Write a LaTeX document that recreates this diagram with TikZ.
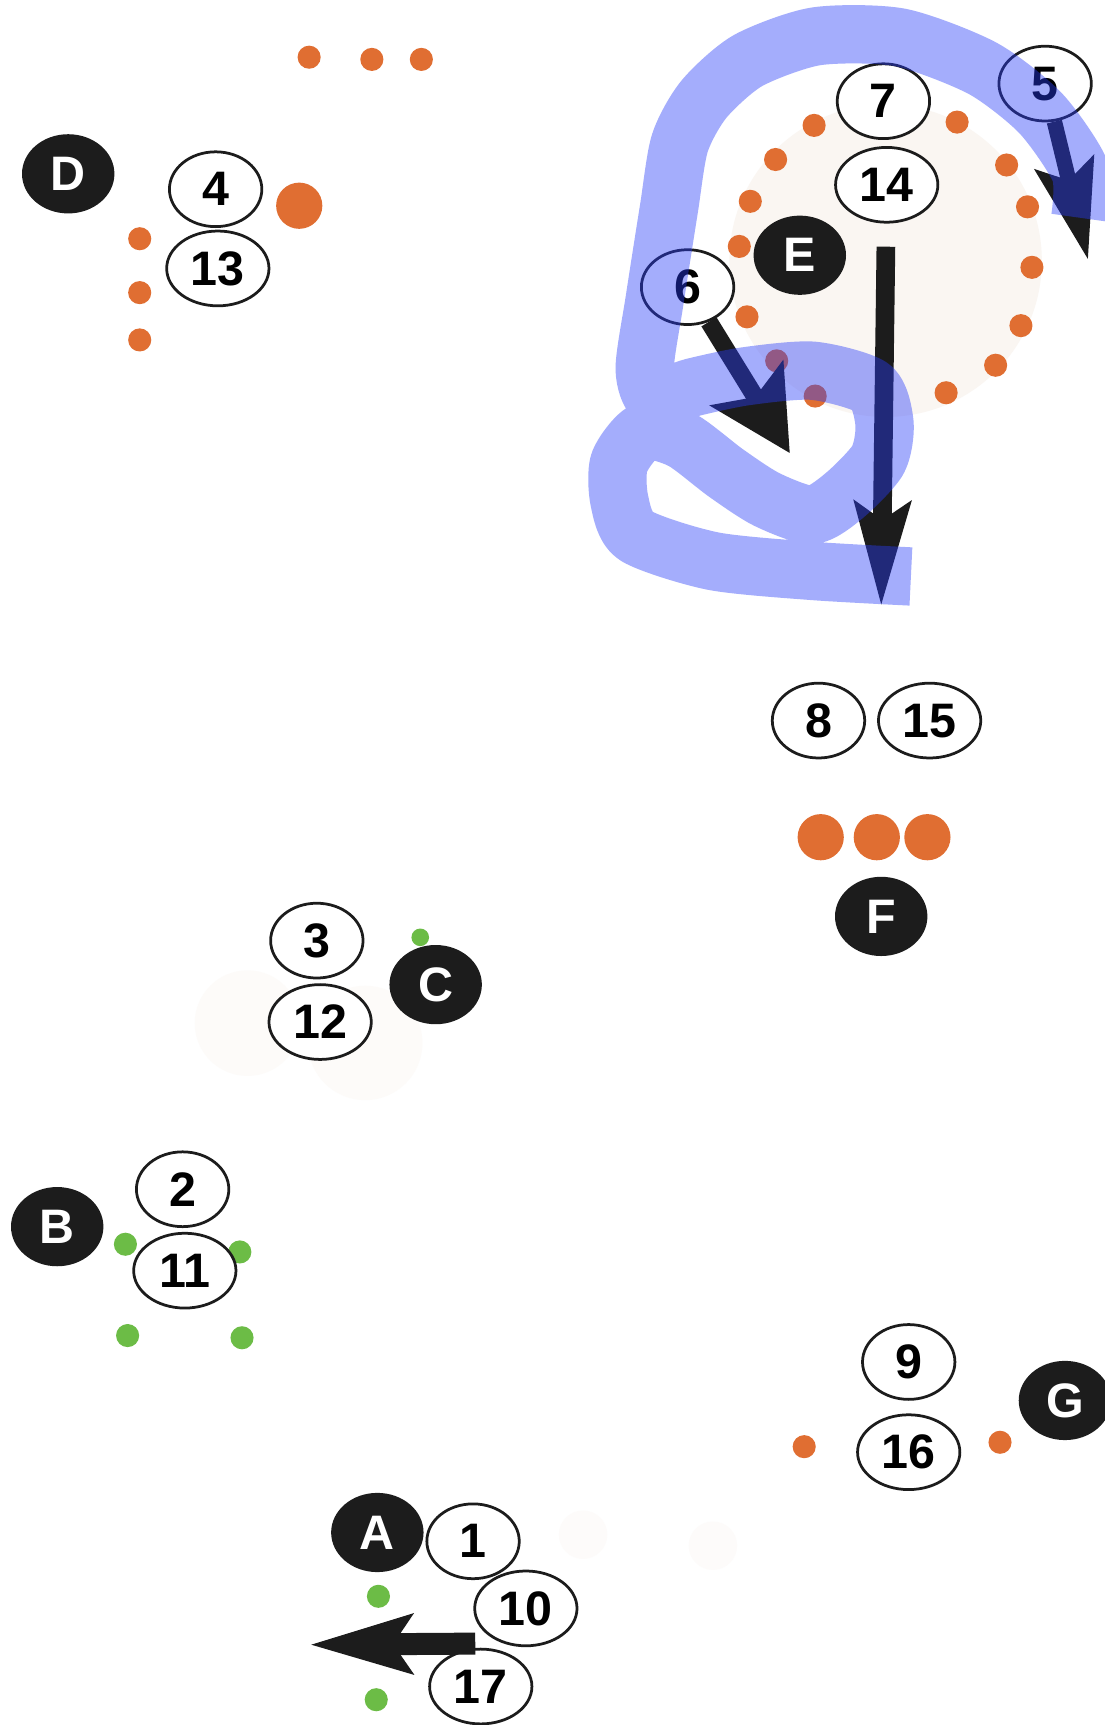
\documentclass[tikz,border=0pt]{standalone}
\usepackage{fontspec}
\setmainfont{Liberation Sans}
\usetikzlibrary{shapes.geometric,arrows.meta}
\definecolor{ink}{RGB}{28,28,28}
\definecolor{rust}{RGB}{224,110,50}
\definecolor{leaf}{RGB}{108,188,70}
\definecolor{pen}{RGB}{40,60,250}
\definecolor{haze}{RGB}{250,246,242}
\newcommand\TagFont{\fontsize{44}{50}\selectfont\bfseries}
\tikzset{
  tag/.style={
    shape = ellipse,
    draw = ink,
    line width = 2.5pt,
    fill = white,
    inner sep = 0pt,
    minimum width = 84pt,
    minimum height = 68pt,
    font = \TagFont
  },
  wide/.style={minimum width = 93pt},
  site/.style={
    shape = ellipse,
    fill = ink,
    text = white,
    inner sep = 0pt,
    minimum width = 84pt,
    minimum height = 72pt,
    font = \TagFont
  },
  push/.style={
    draw = ink,
    line width = 17pt,
    -{Stealth[length=92pt, width=52pt, inset=16pt]}
  },
  lasso/.style={
    draw = pen,
    draw opacity = 0.42,
    line width = 53pt,
    line cap = butt,
    line join = round
  }
}

\begin{document}
\begin{tikzpicture}[x=1pt, y=-1pt]
  \useasboundingbox (0,0) rectangle (1004,1568);
  \fill[white] (0,0) rectangle (1004,1568);

  % faint background blobs
  \fill[haze] (805,237) circle (142);
  \fill[haze!45] (225,930) circle (48);
  \fill[haze!45] (332,948) circle (52);
  \fill[haze!40] (530,1395) circle (22);
  \fill[haze!40] (648,1405) circle (22);

  % orange and green dots
  \foreach \p in {(281,52),(338,54),(383,54),(127,217),(127,266),(127,309),
                  (740,114),(705,145),(682,183),(672,224),(679,288),(706,328),
                  (741,360),(860,357),(905,332),(928,296),(938,243),(934,188),
                  (915,150),(870,111),(731,1315),(909,1311)}
    \fill[rust] \p circle (10.5);
  \foreach \p in {(272,187),(746,761),(797,761),(843,761)}
    \fill[rust] \p circle (21);
  \foreach \p in {(114,1131),(218,1138),(116,1214),(220,1216),(344,1451),(342,1545)}
    \fill[leaf] \p circle (10.5);
  \fill[leaf] (382,852) circle (8);

  % sites
  \node[site] (sA) at (343,1393) {A};
  \node[site] (sB) at (52,1115) {B};
  \node[site] (sC) at (396,895) {C};
  \node[site] (sD) at (62,158) {D};
  \node[site] (sE) at (727,232) {E};
  \node[site] (sF) at (801,833) {F};
  \node[site] (sG) at (968,1273) {G};

  % step tags
  \node[tag] (n1) at (430,1401) {1};
  \node[tag] (n2) at (166,1081) {2};
  \node[tag] (n3) at (288,855) {3};
  \node[tag] (n4) at (196,172) {4};
  \node[tag] (n5) at (950,76) {5};
  \node[tag] (n6) at (625,261) {6};
  \node[tag] (n7) at (803,92) {7};
  \node[tag] (n8) at (744,655) {8};
  \node[tag] (n9) at (826,1238) {9};
  \node[tag, wide] (n10) at (478,1462) {10};
  \node[tag, wide] (n11) at (168,1155) {11};
  \node[tag, wide] (n12) at (291,929) {12};
  \node[tag, wide] (n13) at (198,244) {13};
  \node[tag, wide] (n14) at (806,168) {14};
  \node[tag, wide] (n15) at (845,655) {15};
  \node[tag, wide] (n16) at (826,1320) {16};
  \node[tag, wide] (n17) at (437,1533) {17};

  % arrows
  \coordinate (t5) at (989,236);
  \coordinate (t6) at (718,412);
  \coordinate (t14) at (801,551);
  \coordinate (hA) at (432,1494);
  \coordinate (tA) at (281,1495);
  \draw[push, line width=14pt, -{Stealth[length=90pt, width=54pt, inset=16pt]}] (n5) -- (t5);
  \draw[push, line width=16pt, -{Stealth[length=74pt, width=76pt, inset=14pt]}] (n6) -- (t6);
  \draw[push, shorten <=21pt, -{Stealth[length=94pt, width=50pt, inset=16pt]}] (n14) -- (t14);
  \draw[push, line width=20pt] (hA) -- (tA);

  % hand drawn lasso
  \draw[lasso] plot[smooth, tension=0.45] coordinates {
    (982,198) (982,156) (946,103) (893,62) (818,34) (742,33) (680,55)
    (640,90) (618,130) (608,190) (595,273) (586,335) (596,362) (630,352)
    (678,342) (739,337) (792,352) (804,385) (798,418) (768,450) (738,468)
    (697,454) (660,430) (620,400) (586,392) (563,420) (563,455) (578,487)
    (648,510) (739,519) (828,524)};
\end{tikzpicture}
\end{document}
